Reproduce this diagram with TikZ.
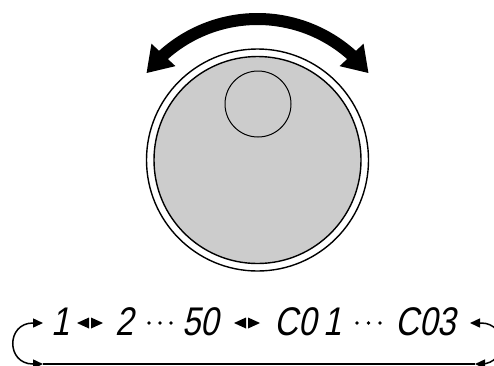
\documentclass[tikz,border=0pt]{standalone}
\usepackage{fontspec}
\newfontfamily\segfont[FakeStretch=0.82,FakeSlant=0.2]{Liberation Sans}
\usetikzlibrary{arrows.meta,bending,calc}
\begin{document}
\begin{tikzpicture}[x=1pt,y=-1pt,
  ring/.style={circle,draw,line width=1.4pt,inner sep=0pt,outer sep=0pt,minimum size=#1},
  seg/.style={font=\segfont\fontsize{40}{40}\selectfont,inner sep=0pt},
  looparrow/.style={line width=1.5pt,{Triangle[length=10pt,width=9pt]}-{Triangle[length=10pt,width=9pt]}},
  dotmark/.style={circle,fill,inner sep=0pt,minimum size=3.6pt},
  bigturn/.style={line width=12pt,{Triangle[length=25pt,width=31pt]}-{Triangle[length=25pt,width=31pt]}}
]
\useasboundingbox (0,0) rectangle (494,365);
\clip (0,0) rectangle (494,365);
% knob
\node[ring=222pt,fill=white] (outer) at (257.5,160) {};
\node[ring=207pt,fill=black!20] (inner) at (257.5,160) {};
\node[ring=66pt,line width=1pt] (mark) at (258,104) {};
% turning arrow
\draw[bigturn] (outer.center) ++(-142:141) arc[start angle=-142,end angle=-38,radius=141];
% display
\node[seg] (n1) at (61,322) {1};
\node[seg] (n2) at (125,322) {2};
\node[seg] (n50) at (201,322) {50};
\node[seg] (nc01) at (308,322) {C0\kern7pt 1};
\node[seg] (nc03) at (426,322) {C03};
\foreach \m in {90,247}{
  \fill (\m-13,323) -- (\m-1,317.5) -- (\m-1,328.5) -- cycle;
  \fill (\m+13,323) -- (\m+1,317.5) -- (\m+1,328.5) -- cycle;
}
\foreach \x in {149,160,171,357,368.5,380}
  \node[dotmark] at (\x,323) {};
% loop
\coordinate (lt) at (43,323);
\coordinate (lb) at (43,364);
\coordinate (rt) at (470,323);
\coordinate (rb) at (475,364);
\draw[looparrow] (lt) -- (33,323) .. controls (6,323) and (6,364) .. (33,364) -- (lb);
\draw[looparrow] (rt) -- (481,323) .. controls (508,323) and (508,364) .. (481,364) -- (rb);
\draw[line width=2pt] (lb) -- (rb);
\end{tikzpicture}
\end{document}
